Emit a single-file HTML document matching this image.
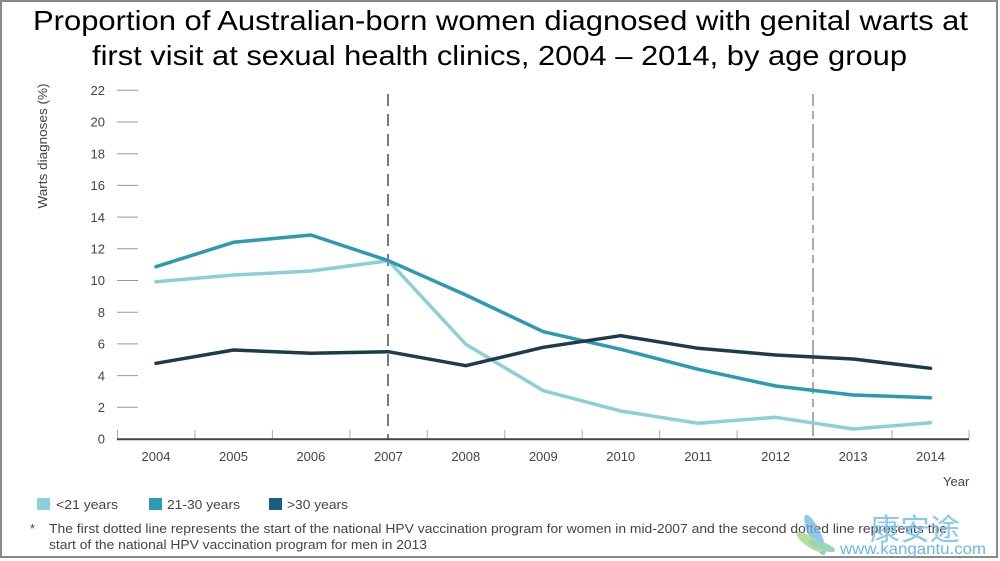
<!DOCTYPE html>
<html>
<head>
<meta charset="utf-8">
<style>
  html,body{margin:0;padding:0;background:#fff;}
  svg{display:block;}
  text{font-family:"Liberation Sans", Arial, sans-serif;}
</style>
</head>
<body>
<svg width="1000" height="561" viewBox="0 0 1000 561" xmlns="http://www.w3.org/2000/svg">
  <rect x="0" y="0" width="1000" height="561" fill="#fff"/>
  <!-- frame -->
  <rect x="1" y="1" width="996" height="556" fill="none" stroke="#8a8a8a" stroke-width="2"/>

  <!-- title -->
  <text x="33" y="30" font-size="28" fill="#000" textLength="935" lengthAdjust="spacingAndGlyphs">Proportion of Australian-born women diagnosed with genital warts at</text>
  <text x="92" y="65" font-size="28" fill="#000" textLength="815" lengthAdjust="spacingAndGlyphs">first visit at sexual health clinics, 2004 – 2014, by age group</text>

  <!-- y axis title -->
  <text transform="translate(47,146) rotate(-90)" text-anchor="middle" font-size="13" fill="#444" textLength="125" lengthAdjust="spacingAndGlyphs">Warts diagnoses (%)</text>

  <!-- y ticks -->
  <g stroke="#9a9a9a" stroke-width="1">
    <line x1="117" y1="90.3" x2="138" y2="90.3"/>
    <line x1="117" y1="122" x2="138" y2="122"/>
    <line x1="117" y1="153.7" x2="138" y2="153.7"/>
    <line x1="117" y1="185.4" x2="138" y2="185.4"/>
    <line x1="117" y1="217.1" x2="138" y2="217.1"/>
    <line x1="117" y1="248.8" x2="138" y2="248.8"/>
    <line x1="117" y1="280.5" x2="138" y2="280.5"/>
    <line x1="117" y1="312.2" x2="138" y2="312.2"/>
    <line x1="117" y1="343.9" x2="138" y2="343.9"/>
    <line x1="117" y1="375.6" x2="138" y2="375.6"/>
    <line x1="117" y1="407.3" x2="138" y2="407.3"/>
  </g>
  <g font-size="13" fill="#444" text-anchor="end">
    <text x="105" y="95">22</text>
    <text x="105" y="126.7">20</text>
    <text x="105" y="158.4">18</text>
    <text x="105" y="190.1">16</text>
    <text x="105" y="221.8">14</text>
    <text x="105" y="253.5">12</text>
    <text x="105" y="285.2">10</text>
    <text x="105" y="316.9">8</text>
    <text x="105" y="348.6">6</text>
    <text x="105" y="380.3">4</text>
    <text x="105" y="412">2</text>
    <text x="105" y="443.7">0</text>
  </g>

  <!-- x axis minor ticks -->
  <g stroke="#aaa" stroke-width="1">
    <line x1="117.5" y1="430" x2="117.5" y2="439"/>
    <line x1="195" y1="430" x2="195" y2="439"/>
    <line x1="272.4" y1="430" x2="272.4" y2="439"/>
    <line x1="349.9" y1="430" x2="349.9" y2="439"/>
    <line x1="427.3" y1="430" x2="427.3" y2="439"/>
    <line x1="504.8" y1="430" x2="504.8" y2="439"/>
    <line x1="582.2" y1="430" x2="582.2" y2="439"/>
    <line x1="659.7" y1="430" x2="659.7" y2="439"/>
    <line x1="737.1" y1="430" x2="737.1" y2="439"/>
    <line x1="892" y1="430" x2="892" y2="439"/>
    <line x1="969" y1="430" x2="969" y2="439"/>
  </g>

  <!-- dashed vertical lines -->
  <line x1="388" y1="94" x2="388" y2="439" stroke="#7a7a7a" stroke-width="2" stroke-dasharray="12 8"/>
  <line x1="813" y1="94" x2="813" y2="439" stroke="#ababab" stroke-width="2" stroke-dasharray="12 5 8 5 24 5 8 5" stroke-dashoffset="0"/>

  <!-- x axis line -->
  <line x1="117" y1="439.3" x2="969" y2="439.3" stroke="#444" stroke-width="2"/>

  <!-- year labels -->
  <g font-size="13" fill="#444" text-anchor="middle">
    <text x="156" y="461">2004</text>
    <text x="233.5" y="461">2005</text>
    <text x="310.9" y="461">2006</text>
    <text x="388.4" y="461">2007</text>
    <text x="465.8" y="461">2008</text>
    <text x="543.3" y="461">2009</text>
    <text x="620.7" y="461">2010</text>
    <text x="698.2" y="461">2011</text>
    <text x="775.6" y="461">2012</text>
    <text x="853.1" y="461">2013</text>
    <text x="930.5" y="461">2014</text>
  </g>
  <text x="943" y="486" font-size="13" fill="#444">Year</text>

  <!-- series -->
  <g fill="none" stroke-width="3.5" stroke-linejoin="round" stroke-linecap="round">
    <polyline stroke="#8ccfd7" points="156,281.7 233.5,275 310.9,271 388.4,260.7 465.8,344.3 543.3,390.7 620.7,411 698.2,423.3 775.6,417.3 853.1,429 930.5,422.7"/>
    <polyline stroke="#2a9bb0" points="156,266.7 233.5,242.3 310.9,235 388.4,260.7 465.8,295 543.3,331.7 620.7,349.3 698.2,369.3 775.6,386 853.1,395 930.5,397.7"/>
    <polyline stroke="#1f3b4b" points="156,363.3 233.5,350 310.9,353.3 388.4,351.7 465.8,365.7 543.3,347.3 620.7,335.7 698.2,348.3 775.6,355 853.1,359 930.5,368.3"/>
  </g>

  <!-- legend -->
  <rect x="37" y="498" width="13" height="12" fill="#8dd0d8"/>
  <text x="56" y="509" font-size="13" fill="#444" textLength="62" lengthAdjust="spacingAndGlyphs">&lt;21 years</text>
  <rect x="149" y="498" width="13" height="12" fill="#2a9bb2"/>
  <text x="167" y="509" font-size="13" fill="#444" textLength="73" lengthAdjust="spacingAndGlyphs">21-30 years</text>
  <rect x="269" y="498" width="13" height="12" fill="#1d5f82"/>
  <text x="287" y="509" font-size="13" fill="#444" textLength="61" lengthAdjust="spacingAndGlyphs">&gt;30 years</text>

  <!-- footnote -->
  <text x="30" y="533" font-size="13" fill="#444">*</text>
  <text x="49" y="533" font-size="13" fill="#444" textLength="898" lengthAdjust="spacingAndGlyphs">The first dotted line represents the start of the national HPV vaccination program for women in mid-2007 and the second dotted line represents the</text>
  <text x="49" y="549" font-size="13" fill="#444" textLength="378" lengthAdjust="spacingAndGlyphs">start of the national HPV vaccination program for men in 2013</text>

  <!-- watermark -->
  <g opacity="0.75">
    <ellipse cx="815" cy="535" rx="6" ry="22" transform="rotate(-25 815 535)" fill="#6fb6e6"/>
    <ellipse cx="810" cy="542" rx="5" ry="16" transform="rotate(-55 810 542)" fill="#9bd37a"/>
    <ellipse cx="822" cy="546" rx="4" ry="14" transform="rotate(-70 822 546)" fill="#7cc6a0"/>
  </g>
  <text x="870" y="540" font-size="30" fill="#7cc3ec" font-family="'Liberation Sans','Noto Sans CJK SC',sans-serif" opacity="0.9">康安途</text>
  <text x="840" y="554" font-size="16" fill="#5ab0e4" opacity="0.9" textLength="146" lengthAdjust="spacingAndGlyphs">www.kangantu.com</text>
</svg>
</body>
</html>
